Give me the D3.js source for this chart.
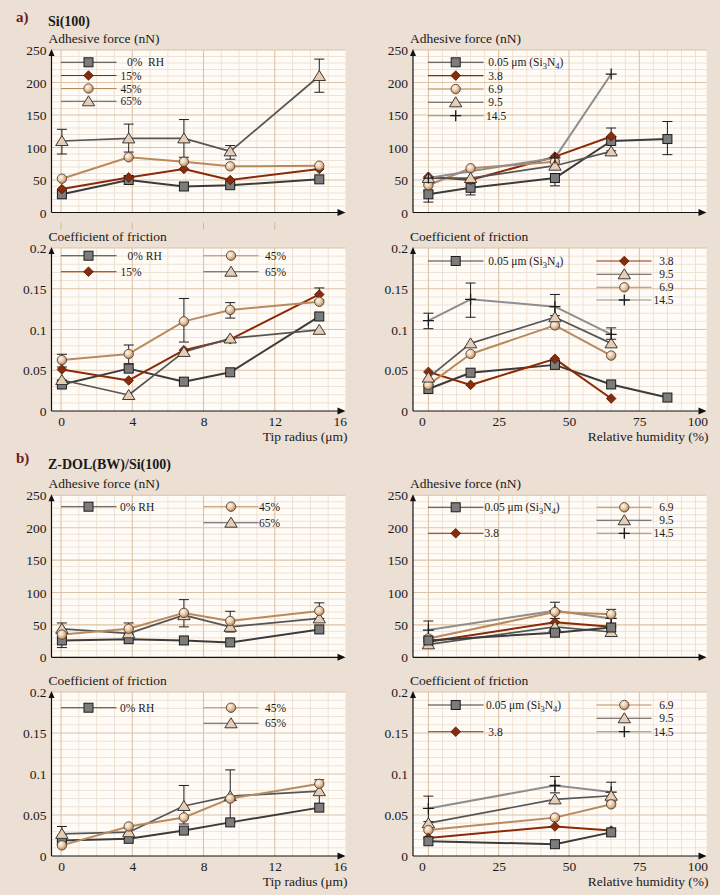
<!DOCTYPE html>
<html><head><meta charset="utf-8">
<script src="https://cdn.jsdelivr.net/npm/d3@7"></script>
<style>
html,body{margin:0;padding:0;background:#ecdfd3;}
svg{display:block;}
text{font-family:"Liberation Serif","DejaVu Serif",serif;fill:#1a1a1a;}
</style></head><body>
<svg id="chart" width="720" height="895"></svg>
<script>
// ---------- DATA ----------
const tipRadius = [0.05, 3.8, 6.9, 9.5, 14.5];
const humidity = [0, 15, 45, 65, 85];
const humidity4 = [0, 15, 45, 65];
const humidity3 = [0, 45, 65];
const humidity14 = [0, 45, 65];

const rhLabels = ["0%  RH", "15%", "45%", "65%"];
const tipLabels = ["0.05 μm (Si_3N_4)", "3.8", "6.9", "9.5", "14.5"];
const tipTicks = [0, 4, 8, 12, 16];
const rhTicks = [0, 25, 50, 75, 100];
const adhTicks = [0, 50, 100, 150, 200, 250];
const cofTicks = [0, 0.05, 0.1, 0.15, 0.2];

// a) Si(100) adhesive force vs tip radius
const siAdh0 = [28, 50, 40, 42, 51];
const siAdh15 = [36, 54, 67, 50, 67];
const siAdh45 = [52, 85, 78, 71, 72];
const siAdh65 = [110, 114, 114, 94, 210];
const siAdh65Lo = [90, 93, 85, 82, 185];
const siAdh65Hi = [128, 136, 143, 103, 236];
// a) Si(100) friction vs tip radius
const siCof0 = [0.0325, 0.052, 0.036, 0.0475, 0.116];
const siCof15 = [0.051, 0.0375, 0.0746, 0.088, 0.143];
const siCof45 = [0.0625, 0.07, 0.110, 0.124, 0.134];
const siCof45Lo = [0.054, 0.058, 0.0846, 0.114, 0.136];
const siCof45Hi = [0.0696, 0.081, 0.138, 0.133, 0.151];
const siCof65 = [0.038, 0.0196, 0.0725, 0.089, 0.0996];
// a) Si(100) adhesive force vs humidity
const siAdhT005 = [28, 38, 53, 110, 113];
const siAdhT005Lo = [16, 27, 41, 95, 89];
const siAdhT005Hi = [33, 47, 60, 130, 140];
const siAdhT38 = [55, 50, 86, 117];
const siAdhT69 = [42, 68, 78];
const siAdhT95 = [53, 53, 72, 94];
const siAdhT145 = [53, 84, 213];
// a) Si(100) friction vs humidity
const siCofT005 = [0.027, 0.047, 0.0566, 0.0326, 0.0165];
const siCofT38 = [0.048, 0.032, 0.064, 0.0153];
const siCofT69 = [0.032, 0.070, 0.105, 0.068];
const siCofT95 = [0.041, 0.083, 0.115, 0.083];
const siCofT145 = [0.111, 0.137, 0.128, 0.094];
const siCofT145Lo = [0.101, 0.115, 0.117, 0.088];
const siCofT145Hi = [0.120, 0.157, 0.143, 0.102];

// b) Z-DOL(BW)/Si(100) adhesive force vs tip radius
const zdAdh0 = [26, 28, 26, 23, 43];
const zdAdh45 = [35, 44, 68.5, 56, 71.6];
const zdAdh45Lo = [15, 37, 47, 39, 60];
const zdAdh45Hi = [53, 53, 89, 71, 84];
const zdAdh65 = [44, 37, 65, 47, 60];
// b) friction vs tip radius
const zdCof0 = [0.019, 0.021, 0.031, 0.041, 0.059];
const zdCof45 = [0.013, 0.036, 0.047, 0.070, 0.088];
const zdCof65 = [0.027, 0.029, 0.061, 0.073, 0.079];
const zdCof65Lo = [0.018, null, 0.039, 0.041, 0.064];
const zdCof65Hi = [0.036, null, 0.086, 0.105, 0.093];
// b) adhesive force vs humidity
const zdAdhT005 = [26, 38, 46];
const zdAdhT38 = [24, 54, 47];
const zdAdhT69 = [29, 70, 66.5];
const zdAdhT95 = [20, 47, 39];
const zdAdhT145 = [42, 72, 60];
const zdAdhT145Lo = [24, 60, 46];
const zdAdhT145Hi = [56, 85, 74];
// b) friction vs humidity
const zdCofT005 = [0.018, 0.0144, 0.0288];
const zdCofT38 = [0.022, 0.036, 0.031];
const zdCofT69 = [0.0316, 0.0468, 0.063];
const zdCofT95 = [0.040, 0.069, 0.0735];
const zdCofT145 = [0.058, 0.086, 0.078];
const zdCofT145Lo = [0.042, 0.077, 0.066];
const zdCofT145Hi = [0.073, 0.097, 0.090];

// ---------- STYLES ----------
const styles = {
  k: {line: "#3b3b3b", width: 2, marker: "square"},
  r: {line: "#8b2a08", width: 2, marker: "diamond"},
  t: {line: "#b98a5e", width: 2, marker: "circle"},
  g: {line: "#555555", width: 1.7, marker: "triangle"},
  p: {line: "#8e8e8e", width: 2, marker: "plus"}
};
const BG_PLOT = "#fffcf8", GRID_MINOR = "#efe2d4", GRID_MAJOR = "#dcc2a6";

const svg = d3.select("#chart");
const defs = svg.append("defs");
const grad = defs.append("radialGradient").attr("id", "sphere").attr("cx", "38%").attr("cy", "35%").attr("r", "65%");
grad.append("stop").attr("offset", "0%").attr("stop-color", "#fff8f0");
grad.append("stop").attr("offset", "55%").attr("stop-color", "#e6c8a6");
grad.append("stop").attr("offset", "100%").attr("stop-color", "#b5875e");

function marker(g, type, cx, cy) {
  const m = g.append("g").attr("transform", `translate(${cx},${cy})`);
  if (type === "square") m.append("rect").attr("x", -4.5).attr("y", -4.5).attr("width", 9).attr("height", 9).attr("fill", "#7c7c7c").attr("stroke", "#1c1c1c").attr("stroke-width", 1);
  else if (type === "diamond") m.append("path").attr("d", "M0,-4.8L4.8,0L0,4.8L-4.8,0Z").attr("fill", "#8a2c0c").attr("stroke", "#4a1505").attr("stroke-width", 0.8);
  else if (type === "circle") m.append("circle").attr("r", 4.7).attr("fill", "url(#sphere)").attr("stroke", "#5c4232").attr("stroke-width", 0.9);
  else if (type === "triangle") m.append("path").attr("d", "M0,-5.5L6.2,4.5L-6.2,4.5Z").attr("fill", "#e6cdb3").attr("stroke", "#3a3a3a").attr("stroke-width", 1);
  else if (type === "plus") m.append("path").attr("d", "M-5.5,0H5.5M0,-5.5V5.5").attr("stroke", "#1a1a1a").attr("stroke-width", 1.3);
}

function richText(sel, label) {
  const parts = label.split(/_(\d)/);
  let sub = false;
  parts.forEach((p, i) => {
    if (!p) return;
    if (i % 2 === 1) { sel.append("tspan").attr("font-size", "8.5px").attr("dy", 3).text(p); sub = true; }
    else { sel.append("tspan").attr("dy", sub ? -3 : 0).text(p); sub = false; }
  });
}

const L = {axisX: 51.5, right: 345.5, x: d3.scaleLinear().domain([0, 16]).range([61, 346]),
  minor: d3.range(0, 16, 1), major: [0, 4, 8, 12], ticks: tipTicks, firstDx: 0};
const R = {axisX: 413, right: 706.5, x: d3.scaleLinear().domain([0, 100]).range([428.4, 709.6]),
  minor: d3.range(0, 100, 5), major: [0, 25, 50, 75], ticks: rhTicks, firstDx: -6.5};

function panel(cfg) {
  const G = cfg.geom;
  const g = svg.append("g");
  const y = d3.scaleLinear().domain(cfg.adh ? [0, 250] : [0, 0.2]).range([cfg.bottom, cfg.top]);
  const x = G.x;
  g.append("rect").attr("x", G.axisX).attr("y", cfg.top).attr("width", G.right - G.axisX)
    .attr("height", cfg.bottom - cfg.top).attr("fill", BG_PLOT);
  const yMinor = cfg.adh ? d3.range(10, 250, 10) : d3.range(1, 20).map(d => d / 100);
  const yMajor = cfg.adh ? [50, 100, 150, 200, 250] : [0.05, 0.1, 0.15, 0.2];
  const isMajorY = v => yMajor.some(m => Math.abs(m - v) < 1e-9);
  g.selectAll(null).data(G.minor.filter(v => !G.major.includes(v))).enter().append("line")
    .attr("x1", d => x(d)).attr("x2", d => x(d)).attr("y1", cfg.top).attr("y2", cfg.bottom)
    .attr("stroke", GRID_MINOR).attr("stroke-width", 1);
  g.selectAll(null).data(yMinor.filter(v => !isMajorY(v))).enter().append("line")
    .attr("x1", G.axisX).attr("x2", G.right).attr("y1", d => y(d)).attr("y2", d => y(d))
    .attr("stroke", GRID_MINOR).attr("stroke-width", 1);
  g.selectAll(null).data(G.major).enter().append("line")
    .attr("x1", d => x(d)).attr("x2", d => x(d)).attr("y1", cfg.top).attr("y2", cfg.bottom)
    .attr("stroke", GRID_MAJOR).attr("stroke-width", 1.1);
  g.selectAll(null).data(yMajor).enter().append("line")
    .attr("x1", G.axisX).attr("x2", G.right).attr("y1", d => y(d)).attr("y2", d => y(d))
    .attr("stroke", GRID_MAJOR).attr("stroke-width", 1.1);

  g.append("line").attr("x1", G.axisX).attr("x2", G.right - 2).attr("y1", cfg.bottom).attr("y2", cfg.bottom).attr("stroke", "#111").attr("stroke-width", 1.2);
  g.append("line").attr("x1", G.axisX).attr("x2", G.axisX).attr("y1", cfg.bottom).attr("y2", cfg.top + 2).attr("stroke", "#111").attr("stroke-width", 1.2);
  g.append("path").attr("d", `M${G.right},${cfg.bottom}l-8,-3.5v7z`).attr("fill", "#111");
  g.append("path").attr("d", `M${G.axisX},${cfg.top - 1}l-3,7h6z`).attr("fill", "#111");

  const ya = g.append("g").attr("transform", `translate(${G.axisX},0)`)
    .call(d3.axisLeft(y).tickValues(cfg.adh ? adhTicks : cofTicks).tickSize(0).tickPadding(5)
      .tickFormat(d => d === 0 ? "0" : (cfg.adh ? d3.format("d")(d) : String(+d.toFixed(2)))));
  ya.select(".domain").remove();
  ya.attr("font-family", null).attr("font-size", null);
  ya.selectAll("text").attr("font-size", "13.5px").attr("fill", "#1a1a1a").attr("dy", "0.34em");

  if (!cfg.adh) {
    const xa = g.append("g").attr("transform", `translate(0,${cfg.bottom})`)
      .call(d3.axisBottom(x).tickValues(G.ticks).tickSize(0).tickPadding(5));
    xa.select(".domain").remove();
    xa.attr("font-family", null).attr("font-size", null);
    const last = G.ticks[G.ticks.length - 1];
    xa.selectAll(".tick text").attr("font-size", "13.5px").attr("fill", "#1a1a1a")
      .attr("text-anchor", d => d === last ? "end" : "middle")
      .attr("x", d => d === last ? G.right + 1 - x(d) : (d === 0 ? G.firstDx : 0));
    g.append("text").attr("x", G.right + 2).attr("y", cfg.bottom + 29.5).attr("text-anchor", "end")
      .attr("font-size", "13.5px").text(cfg.xTitle);
  }
  if (cfg.hangTicks) {
    g.selectAll(null).data([0, 4, 8, 12]).enter().append("line")
      .attr("x1", d => x(d)).attr("x2", d => x(d)).attr("y1", cfg.bottom + 10).attr("y2", cfg.bottom + 17)
      .attr("stroke", "#d2b89a").attr("stroke-width", 1);
  }

  g.append("text").attr("x", G.axisX - 3).attr("y", cfg.top - 7.5).attr("font-size", "13.5px")
    .text(cfg.adh ? "Adhesive force (nN)" : "Coefficient of friction");

  cfg.series.forEach(s => {
    const st = styles[s.s];
    const pts = s.x.map((xv, i) => [x(xv), y(s.y[i])]);
    g.append("path").attr("d", d3.line()(pts)).attr("fill", "none").attr("stroke", st.line)
      .attr("stroke-width", st.width).attr("stroke-linejoin", "round");
  });
  cfg.series.forEach(s => {
    if (!s.lo) return;
    s.x.forEach((xv, i) => {
      if (s.lo[i] == null) return;
      const cx = x(xv), y1 = y(s.lo[i]), y2 = y(s.hi[i]);
      g.append("path").attr("d", `M${cx},${y1}V${y2}M${cx - 5},${y1}H${cx + 5}M${cx - 5},${y2}H${cx + 5}`)
        .attr("stroke", "#1e1e1e").attr("stroke-width", 1).attr("fill", "none");
    });
  });
  cfg.series.forEach(s => {
    const st = styles[s.s];
    s.x.forEach((xv, i) => marker(g, st.marker, x(xv), y(s.y[i])));
  });

  cfg.legend.forEach(it => {
    const st = styles[it.s];
    g.append("line").attr("x1", it.x0).attr("x2", it.x1).attr("y1", it.y).attr("y2", it.y)
      .attr("stroke", st.line).attr("stroke-width", 1.1);
    marker(g, st.marker, it.m, it.y);
    const t = g.append("text").attr("x", it.tx).attr("y", it.y + 4).attr("font-size", "11.5px")
      .attr("text-anchor", it.anchor || "start").style("white-space", "pre");
    richText(t, it.label);
  });
}

svg.append("text").attr("x", 16).attr("y", 21.5).attr("font-family", "Liberation Sans, Arial, sans-serif")
  .attr("font-weight", "bold").attr("font-size", "15px").style("fill", "#6b1d1d").text("a)");
svg.append("text").attr("x", 48).attr("y", 25.5).attr("font-weight", "bold").attr("font-size", "14px").text("Si(100)");
svg.append("text").attr("x", 16).attr("y", 463).attr("font-family", "Liberation Sans, Arial, sans-serif")
  .attr("font-weight", "bold").attr("font-size", "15px").style("fill", "#6b1d1d").text("b)");
svg.append("text").attr("x", 48).attr("y", 468.5).attr("font-weight", "bold").attr("font-size", "14px").text("Z-DOL(BW)/Si(100)");

const lc1 = {x0: 61, x1: 116.5, m: 88.5};
const lc2 = {x0: 203.5, x1: 258.5, m: 231};
const rc1 = {x0: 428, x1: 483.5, m: 455.7};
const rc2 = {x0: 596.5, x1: 651.5, m: 624.3};

panel({geom: L, adh: true, top: 50, bottom: 212.5, hangTicks: true,
  series: [
    {x: tipRadius, y: siAdh0, s: "k"},
    {x: tipRadius, y: siAdh15, s: "r"},
    {x: tipRadius, y: siAdh45, s: "t"},
    {x: tipRadius, y: siAdh65, s: "g", lo: siAdh65Lo, hi: siAdh65Hi}],
  legend: [
    {...lc1, y: 62.3, s: "k", label: rhLabels[0], tx: 127},
    {...lc1, y: 75.5, s: "r", label: rhLabels[1], tx: 120.5},
    {...lc1, y: 88.5, s: "t", label: rhLabels[2], tx: 120.5},
    {...lc1, y: 101.3, s: "g", label: rhLabels[3], tx: 120.5}]
});
panel({geom: L, adh: false, top: 248, bottom: 411, xTitle: "Tip radius (μm)",
  series: [
    {x: tipRadius, y: siCof0, s: "k"},
    {x: tipRadius, y: siCof15, s: "r"},
    {x: tipRadius, y: siCof45, s: "t", lo: siCof45Lo, hi: siCof45Hi},
    {x: tipRadius, y: siCof65, s: "g"}],
  legend: [
    {...lc1, y: 255.7, s: "k", label: "0% RH", tx: 127.5},
    {...lc1, y: 271.7, s: "r", label: rhLabels[1], tx: 120.5},
    {...lc2, y: 255.7, s: "t", label: rhLabels[2], tx: 265},
    {...lc2, y: 271.7, s: "g", label: rhLabels[3], tx: 265}]
});
panel({geom: R, adh: true, top: 50, bottom: 212.5,
  series: [
    {x: humidity, y: siAdhT005, s: "k", lo: siAdhT005Lo, hi: siAdhT005Hi},
    {x: humidity4, y: siAdhT38, s: "r"},
    {x: humidity.slice(0, 3), y: siAdhT69, s: "t"},
    {x: humidity4, y: siAdhT95, s: "g"},
    {x: humidity14, y: siAdhT145, s: "p"}],
  legend: [
    {...rc1, y: 62.3, s: "k", label: tipLabels[0], tx: 488.3},
    {...rc1, y: 75.6, s: "r", label: tipLabels[1], tx: 488.3},
    {...rc1, y: 89, s: "t", label: tipLabels[2], tx: 488.3},
    {...rc1, y: 102.3, s: "g", label: tipLabels[3], tx: 488.3},
    {...rc1, y: 115.7, s: "p", label: tipLabels[4], tx: 486}]
});
panel({geom: R, adh: false, top: 248, bottom: 411, xTitle: "Relative humidity (%)",
  series: [
    {x: humidity, y: siCofT005, s: "k"},
    {x: humidity4, y: siCofT38, s: "r"},
    {x: humidity4, y: siCofT69, s: "t"},
    {x: humidity4, y: siCofT95, s: "g"},
    {x: humidity4, y: siCofT145, s: "p", lo: siCofT145Lo, hi: siCofT145Hi}],
  legend: [
    {...rc1, y: 261, s: "k", label: tipLabels[0], tx: 488.3},
    {...rc2, y: 261, s: "r", label: tipLabels[1], tx: 673.5, anchor: "end"},
    {...rc2, y: 274.3, s: "g", label: tipLabels[3], tx: 673.5, anchor: "end"},
    {...rc2, y: 287.3, s: "t", label: tipLabels[2], tx: 673.5, anchor: "end"},
    {...rc2, y: 300, s: "p", label: tipLabels[4], tx: 673.5, anchor: "end"}]
});

panel({geom: L, adh: true, top: 495.3, bottom: 657.3,
  series: [
    {x: tipRadius, y: zdAdh0, s: "k"},
    {x: tipRadius, y: zdAdh65, s: "g"},
    {x: tipRadius, y: zdAdh45, s: "t", lo: zdAdh45Lo, hi: zdAdh45Hi}],
  legend: [
    {...lc1, y: 506.7, s: "k", label: "0% RH", tx: 120},
    {...lc2, y: 506.7, s: "t", label: rhLabels[2], tx: 259},
    {...lc2, y: 522.7, s: "g", label: rhLabels[3], tx: 259}]
});
panel({geom: L, adh: false, top: 692, bottom: 856, xTitle: "Tip radius (μm)",
  series: [
    {x: tipRadius, y: zdCof0, s: "k"},
    {x: tipRadius, y: zdCof65, s: "g", lo: zdCof65Lo, hi: zdCof65Hi},
    {x: tipRadius, y: zdCof45, s: "t"}],
  legend: [
    {...lc1, y: 707.7, s: "k", label: "0% RH", tx: 120},
    {...lc2, y: 707.7, s: "t", label: rhLabels[2], tx: 265},
    {...lc2, y: 723.3, s: "g", label: rhLabels[3], tx: 265}]
});
panel({geom: R, adh: true, top: 495.3, bottom: 657.3,
  series: [
    {x: humidity3, y: zdAdhT145, s: "p", lo: zdAdhT145Lo, hi: zdAdhT145Hi},
    {x: humidity3, y: zdAdhT69, s: "t"},
    {x: humidity3, y: zdAdhT38, s: "r"},
    {x: humidity3, y: zdAdhT95, s: "g"},
    {x: humidity3, y: zdAdhT005, s: "k"}],
  legend: [
    {...rc1, y: 507.3, s: "k", label: tipLabels[0], tx: 484.5},
    {...rc1, y: 533.3, s: "r", label: tipLabels[1], tx: 484.5},
    {...rc2, y: 507.3, s: "t", label: tipLabels[2], tx: 673.5, anchor: "end"},
    {...rc2, y: 520.3, s: "g", label: tipLabels[3], tx: 673.5, anchor: "end"},
    {...rc2, y: 533.3, s: "p", label: tipLabels[4], tx: 673.5, anchor: "end"}]
});
panel({geom: R, adh: false, top: 692, bottom: 856, xTitle: "Relative humidity (%)",
  series: [
    {x: humidity3, y: zdCofT145, s: "p", lo: zdCofT145Lo, hi: zdCofT145Hi},
    {x: humidity3, y: zdCofT95, s: "g"},
    {x: humidity3, y: zdCofT69, s: "t"},
    {x: humidity3, y: zdCofT38, s: "r"},
    {x: humidity3, y: zdCofT005, s: "k"}],
  legend: [
    {...rc1, y: 705, s: "k", label: tipLabels[0], tx: 486},
    {...rc1, y: 731.7, s: "r", label: tipLabels[1], tx: 488.3},
    {...rc2, y: 705, s: "t", label: tipLabels[2], tx: 673.5, anchor: "end"},
    {...rc2, y: 718.3, s: "g", label: tipLabels[3], tx: 673.5, anchor: "end"},
    {...rc2, y: 731.7, s: "p", label: tipLabels[4], tx: 673.5, anchor: "end"}]
});
</script>
</body></html>
